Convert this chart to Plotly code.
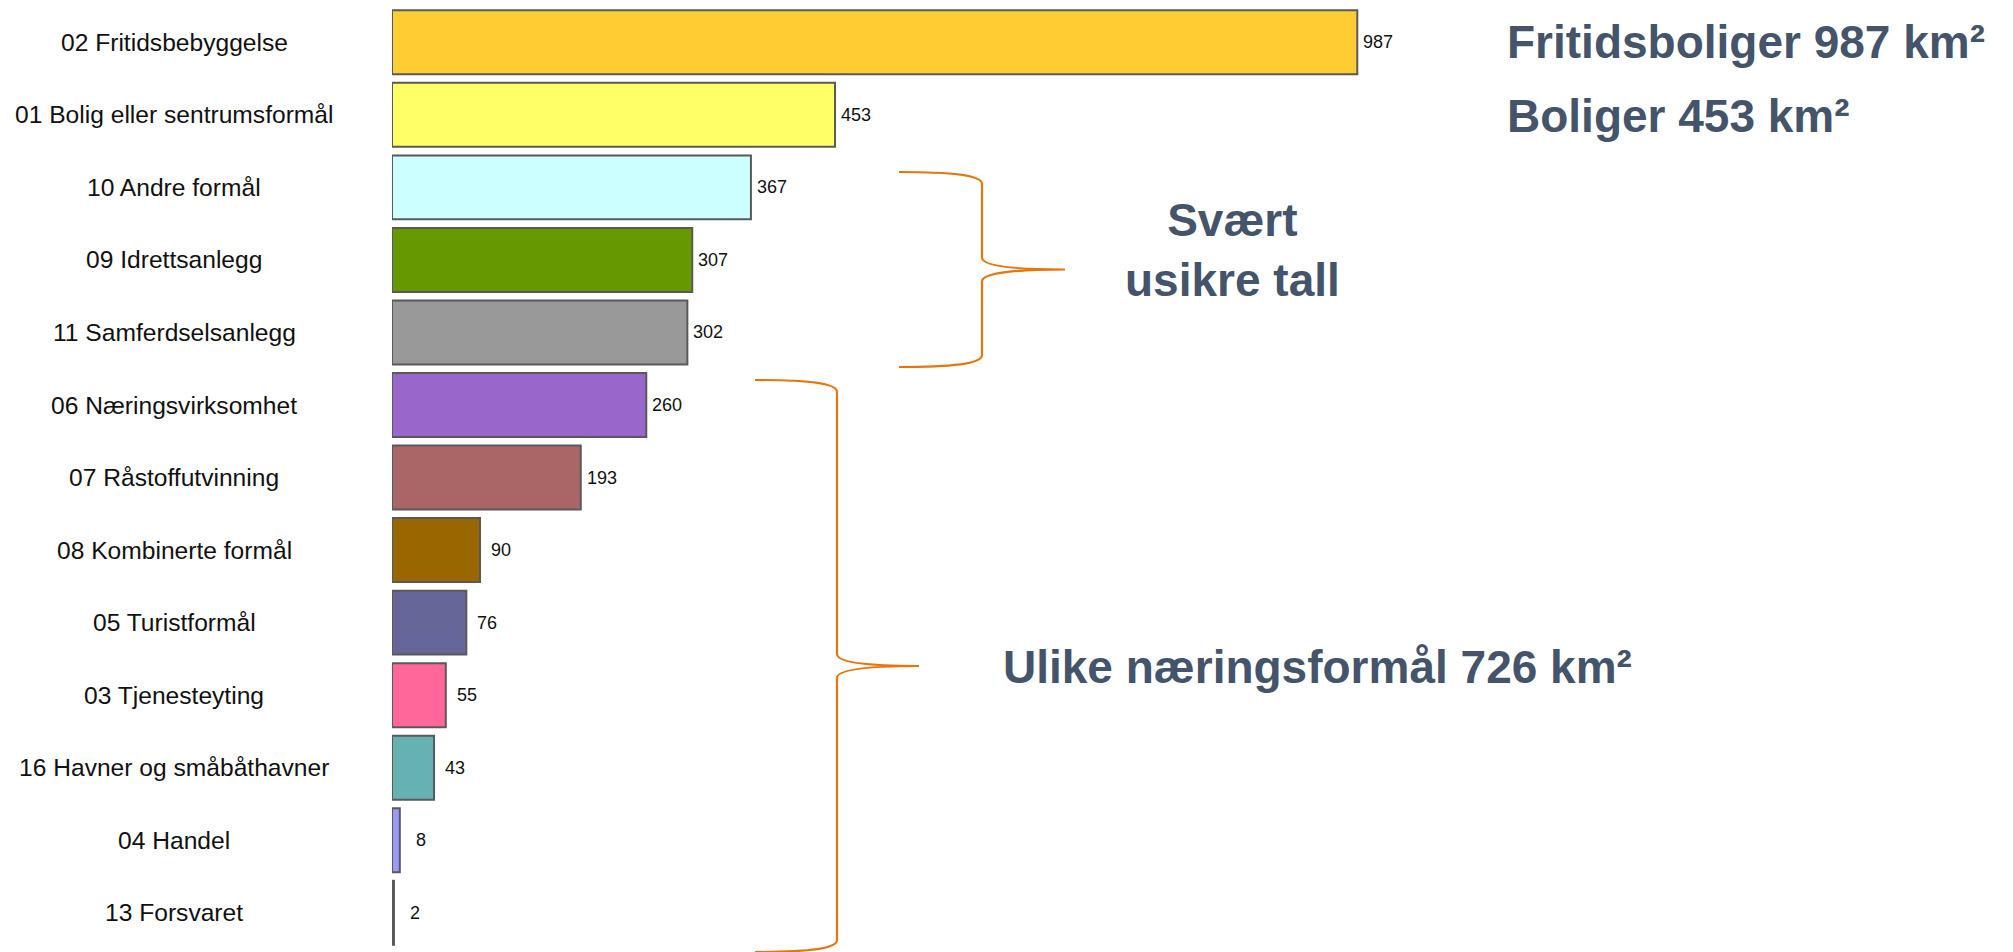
import plotly.graph_objects as go

# ---- data ----
categories = [
    "02 Fritidsbebyggelse",
    "01 Bolig eller sentrumsformål",
    "10 Andre formål",
    "09 Idrettsanlegg",
    "11 Samferdselsanlegg",
    "06 Næringsvirksomhet",
    "07 Råstoffutvinning",
    "08 Kombinerte formål",
    "05 Turistformål",
    "03 Tjenesteyting",
    "16 Havner og småbåthavner",
    "04 Handel",
    "13 Forsvaret",
]
values = [987, 453, 367, 307, 302, 260, 193, 90, 76, 55, 43, 8, 2]
bar_colors = [
    "#FFCC33", "#FFFF66", "#CCFFFF", "#669900", "#999999", "#9966CC",
    "#AA6666", "#996600", "#666699", "#FF6699", "#66B2B2", "#9999FF", "#666666",
]
note_top = ["Fritidsboliger 987 km²", "Boliger 453 km²"]
note_uncertain = "Svært<br>usikre tall"
note_business = "Ulike næringsformål 726 km²"

# ---- layout geometry ----
BODY = 8  # default page body margin in the written html
WIDTH, HEIGHT = 2013 - BODY, 952 - BODY
ML, MR, MT, MB = 392 - BODY, 13, 0, 0
PW = WIDTH - ML - MR
PH = HEIGHT - MT - MB
PX_PER_UNIT = 0.978
XMAX = PW / PX_PER_UNIT

# category rows: page y of first row centre and row pitch
ROW0, PITCH = 42.3, 72.54
Y_TOP = (BODY + MT - ROW0) / PITCH
Y_BOT = (BODY + MT + PH - ROW0) / PITCH

TEXT_COLOR = "#44546A"
BRACE_COLOR = "#E8740C"
FONT = "Liberation Sans, Arial, sans-serif"


def px(x):
    return (x - BODY - ML) / PW


def py(y):
    return 1 - (y - BODY - MT) / PH


fig = go.Figure()
fig.add_trace(go.Bar(
    x=values,
    y=categories,
    orientation="h",
    marker=dict(color=bar_colors, line=dict(color="#595959", width=2)),
    hoverinfo="x+y",
    showlegend=False,
))

annotations = []
# category labels (centered to the left of the plot)
for c in categories:
    annotations.append(dict(
        x=0, xref="paper", y=c, yref="y", text=c, showarrow=False,
        xanchor="center", yanchor="middle", xshift=174 - 392,
        font=dict(family=FONT, size=24.6, color="#111111"),
    ))
# value labels
for c, v in zip(categories, values):
    annotations.append(dict(
        x=v, xref="x", y=c, yref="y", text=str(v), showarrow=False,
        xanchor="center", yanchor="middle", xshift=21,
        font=dict(family=FONT, size=18, color="#111111"),
    ))

big = dict(family=FONT, size=46, color=TEXT_COLOR, weight="bold")
annotations.append(dict(x=px(1505), y=py(42), xref="paper", yref="paper",
                        text="<b>%s</b>" % note_top[0], showarrow=False,
                        xanchor="left", yanchor="middle", font=big))
annotations.append(dict(x=px(1505), y=py(115.5), xref="paper", yref="paper",
                        text="<b>%s</b>" % note_top[1], showarrow=False,
                        xanchor="left", yanchor="middle", font=big))
annotations.append(dict(x=px(1232), y=py(250), xref="paper", yref="paper",
                        text="<b>%s</b>" % note_uncertain, showarrow=False,
                        xanchor="center", yanchor="middle", align="center",
                        font=big))
annotations.append(dict(x=px(1001), y=py(667), xref="paper", yref="paper",
                        text="<b>%s</b>" % note_business, showarrow=False,
                        xanchor="left", yanchor="middle", font=big))


def brace_path(x_end, x_mid, x_tip, y_top, y_tip, y_bot, r=12):
    pts = []
    pts.append("M %.5f,%.5f" % (px(x_end), py(y_top)))
    pts.append("C %.5f,%.5f %.5f,%.5f %.5f,%.5f" % (
        px((x_end + x_mid) / 2 + 10), py(y_top), px(x_mid), py(y_top + 3),
        px(x_mid), py(y_top + r)))
    pts.append("L %.5f,%.5f" % (px(x_mid), py(y_tip - r)))
    pts.append("C %.5f,%.5f %.5f,%.5f %.5f,%.5f" % (
        px(x_mid), py(y_tip - 3), px((x_mid + x_tip) / 2 - 5), py(y_tip),
        px(x_tip), py(y_tip)))
    pts.append("M %.5f,%.5f" % (px(x_tip), py(y_tip)))
    pts.append("C %.5f,%.5f %.5f,%.5f %.5f,%.5f" % (
        px((x_mid + x_tip) / 2 - 5), py(y_tip), px(x_mid), py(y_tip + 3),
        px(x_mid), py(y_tip + r)))
    pts.append("L %.5f,%.5f" % (px(x_mid), py(y_bot - r)))
    pts.append("C %.5f,%.5f %.5f,%.5f %.5f,%.5f" % (
        px(x_mid), py(y_bot - 3), px((x_end + x_mid) / 2 + 10), py(y_bot),
        px(x_end), py(y_bot)))
    return " ".join(pts)


shapes = [
    dict(type="path", xref="paper", yref="paper",
         path=brace_path(899, 982, 1065, 172, 269.5, 367),
         line=dict(color=BRACE_COLOR, width=2.2)),
    dict(type="path", xref="paper", yref="paper",
         path=brace_path(755, 837, 919, 380, 666, 952),
         line=dict(color=BRACE_COLOR, width=2.2)),
]

fig.update_layout(
    width=WIDTH, height=HEIGHT,
    margin=dict(l=ML, r=MR, t=MT, b=MB, pad=0),
    paper_bgcolor="white", plot_bgcolor="white",
    bargap=0.118,
    xaxis=dict(range=[0, XMAX], visible=False, showgrid=False, zeroline=False),
    yaxis=dict(categoryorder="array", categoryarray=categories,
               range=[Y_BOT, Y_TOP], showticklabels=False, showgrid=False,
               zeroline=False, showline=False, ticks=""),
    annotations=annotations,
    shapes=shapes,
    font=dict(family=FONT),
)

fig.write_html("out.html")
